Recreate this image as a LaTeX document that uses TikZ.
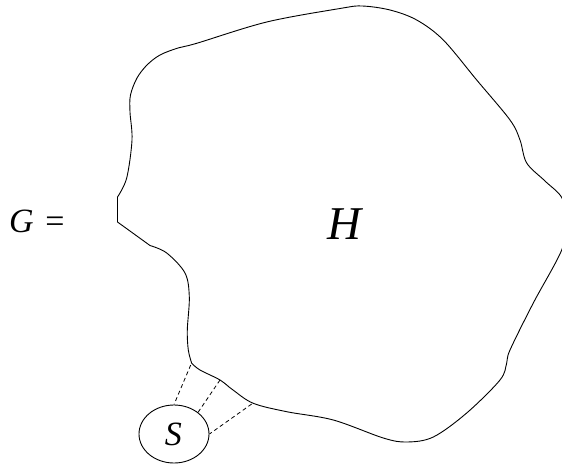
\documentclass[tikz,border=0pt]{standalone}
\usepackage{fontspec}
\setmainfont{Liberation Serif}
\usetikzlibrary{shapes.geometric}
\begin{document}
\begin{tikzpicture}[x=1pt,y=-1pt,
  outline/.style={draw=black,line width=0.9pt,line join=round},
  link/.style={draw=black,line width=0.8pt,dash pattern=on 4pt off 3pt},
  bigtext/.style={font=\fontsize{47}{50}\selectfont\itshape,inner sep=0pt},
  midtext/.style={font=\fontsize{34}{38}\selectfont,inner sep=0pt},
  setshape/.style={ellipse,draw=black,line width=0.9pt,minimum width=70pt,minimum height=58pt,inner sep=0pt}]
\useasboundingbox (0,0) rectangle (562,463);
% outline of H
\draw[outline] plot[smooth,tension=0.55] coordinates {
 (117.5,197) (126.7,178) (132,140) (130,112) (130.5,95) (137,78) (147,65) (160,55) (178,48) (196.7,43.3)
 (266.7,22) (340,8.5) (362,6) (390,10) (416.7,20) (443.3,40) (476.7,80) (510,120)
 (520,140) (526.7,163) (545,181) (562,198) (566,222) (561.7,250) (533.3,303)
 (510,350) (506.7,363) (500,380) (466.7,413) (433.3,437) (406.7,442) (383.3,438)
 (333.3,420) (286.7,411.7) (253.3,403.3) (233,390) (220,380) (200,370) (191.7,363.3)}
 -- plot[smooth,tension=0.55] coordinates {(191.7,363.3) (188.3,350) (187.3,330) (189.3,297)
 (185,273) (166.7,253) (150,245.5)}
 -- (117.5,222) -- cycle;
% labels
\node[bigtext,anchor=base] (h) at (344.5,239) {H};
\node[midtext,anchor=base west] (g) at (9,232) {\textit{G}\hspace{3pt} =};
% small set S
\node[setshape] (s) at (174,434) {};
\node[midtext,anchor=base] (slabel) at (173.3,445) {\textit{S}};
% attachment points on H
\coordinate (p1) at (190.7,365);
\coordinate (p2) at (220,380);
\coordinate (p3) at (251.7,404);
\draw[link] (p1) -- (s.90);
\draw[link] (p2) -- (s.42);
\draw[link] (p3) -- (s.0);
\end{tikzpicture}
\end{document}
